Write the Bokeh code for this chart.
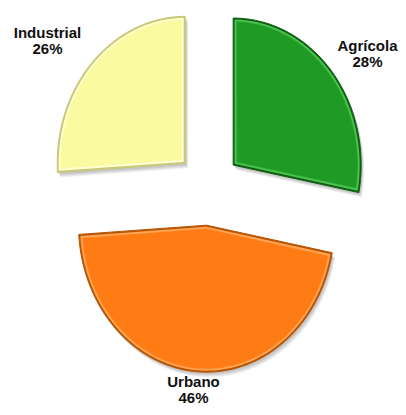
import numpy as np
from bokeh.plotting import figure
from bokeh.models import Range1d, ColumnDataSource
from bokeh.embed import file_html
from bokeh.resources import INLINE
from bokeh.core.properties import value

# ---- data ----
categories = ["Agrícola", "Urbano", "Industrial"]
shares = [28, 46, 26]
pct_labels = ["28%", "46%", "26%"]

# ---- style / layout ----
colors = ["#1F9A24", "#FF7B14", "#FAFAA0"]
edge_colors = ["#0D5E10", "#B85400", "#C8C878"]
hi_colors = ["#4CC250", "#FFA455", "#FFFFD0"]
CX, CY, RX, RY, EXPLODE = 208.0, 188.0, 128.0, 147.0, 0.25
label_x = [367, 193, 47]
label_y = [45, 381, 32]
LINE_GAP = 16

p = figure(width=398, height=407, output_backend="svg", toolbar_location=None,
           x_range=Range1d(0, 398), y_range=Range1d(407, 0),
           x_axis_type=None, y_axis_type=None, min_border=0)
p.outline_line_color = None
p.xgrid.visible = False
p.ygrid.visible = False
p.background_fill_color = "white"


def wedge_poly(a0, a1, apx, apy, rx, ry, n=80):
    t = np.linspace(a0, a1, n)
    xs = np.concatenate([[apx], apx + rx * np.cos(t), [apx]])
    ys = np.concatenate([[apy], apy - ry * np.sin(t), [apy]])
    return xs, ys


total = float(sum(shares))
start = np.pi / 2
polys = []
for i, v in enumerate(shares):
    span = v / total * 2 * np.pi
    a0, a1 = start, start - span
    mid = (a0 + a1) / 2
    apx = CX + EXPLODE * RX * np.cos(mid)
    apy = CY - EXPLODE * RY * np.sin(mid)
    polys.append((a0, a1, mid, apx, apy))
    start = a1

# soft shadows
for (a0, a1, mid, apx, apy) in polys:
    xs, ys = wedge_poly(a0, a1, apx, apy, RX, RY)
    for off in [5, 4, 3, 2]:
        p.patch(xs + off * 0.6, ys + off, fill_color="black", fill_alpha=0.06,
                line_color=None)


def inset(a0, a1, mid, apx, apy, d):
    half = abs(a1 - a0) / 2
    shift = d / np.sin(half) if half < np.pi / 2 else d
    ax_ = apx + shift * np.cos(mid)
    ay_ = apy - shift * np.sin(mid)
    dt = d / RX
    t = np.linspace(a0 - dt, a1 + dt, 80)
    xs = np.concatenate([[ax_], apx + (RX - d) * np.cos(t), [ax_]])
    ys = np.concatenate([[ay_], apy - (RY - d) * np.sin(t), [ay_]])
    return xs, ys


# slices with bevel
for i, (a0, a1, mid, apx, apy) in enumerate(polys):
    xs, ys = wedge_poly(a0, a1, apx, apy, RX, RY)
    p.patch(xs, ys, fill_color=edge_colors[i], line_color=edge_colors[i],
            line_width=1)
    xs2, ys2 = inset(a0, a1, mid, apx, apy, 1.5)
    p.patch(xs2, ys2, fill_color=hi_colors[i], line_color=None)
    xs3, ys3 = inset(a0, a1, mid, apx, apy, 4)
    p.patch(xs3, ys3, fill_color=colors[i], line_color=colors[i], line_width=1.5,
            line_alpha=0.7)

# labels
src = ColumnDataSource(dict(x=label_x, y=label_y, name=categories,
                            y2=[yy + LINE_GAP for yy in label_y], pct=pct_labels))
common = dict(text_align="center", text_baseline="alphabetic",
              text_font=value("Liberation Sans"), text_font_style="bold",
              text_font_size="15px", text_color="#111111")
p.text(x="x", y="y", text="name", source=src, **common)
p.text(x="x", y="y2", text="pct", source=src, **common)

open("out.html", "w").write(file_html(p, INLINE))
